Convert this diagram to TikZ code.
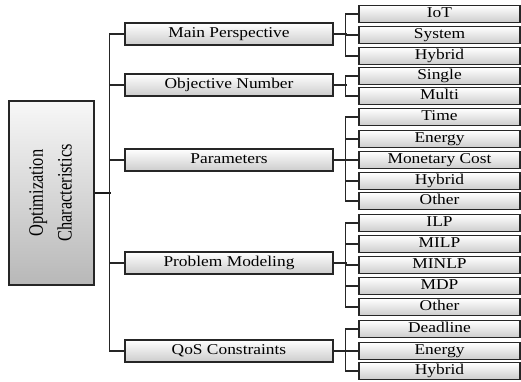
\documentclass[tikz,border=0pt]{standalone}
\usepackage{fontspec}
\setmainfont{Liberation Serif}[FakeStretch=1.16]
\newfontfamily\rootfont{Liberation Serif}
\begin{document}
\begin{tikzpicture}[x=1pt,y=-1pt,
  box/.style={draw=black!85, line width=1.1pt, top color=white, bottom color=black!20, inner sep=0pt},
  midbox/.style={box, minimum width=208pt, minimum height=22pt, font=\fontsize{15}{15}\selectfont, text height=10pt, text depth=3.5pt},
  leafbox/.style={box, minimum width=161pt, minimum height=17pt, font=\fontsize{15}{15}\selectfont, text height=10pt, text depth=3.5pt},
  rootbox/.style={draw=black!85, line width=1.1pt, top color=black!3, bottom color=black!28, minimum width=85pt, minimum height=184pt},
  conn/.style={line width=1.1pt, draw=black!85},
  rootconn/.style={line width=1.6pt, draw=black!90}]
\useasboundingbox (0,0) rectangle (521,381);

% root
\node[rootbox] (root) at (51.5,193) {};
\node[rotate=90, inner sep=0pt] (rootlabel) at (root.center) {\rootfont\fontsize{16.4}{23}\selectfont\scalebox{1}[1.25]{\begin{tabular}{@{}c@{}}Optimization\\ Characteristics\end{tabular}}};

% middle level
\node[midbox] (mp)  at (229,34)  {Main Perspective};
\node[midbox] (on)  at (229,85)  {Objective Number};
\node[midbox] (par) at (229,160) {Parameters};
\node[midbox] (pm)  at (229,263) {Problem Modeling};
\node[midbox] (qos) at (229,351) {QoS Constraints};

% leaves
\node[leafbox] (l1)  at (439.5,14)  {IoT};
\node[leafbox] (l2)  at (439.5,35)  {System};
\node[leafbox] (l3)  at (439.5,56)  {Hybrid};
\node[leafbox] (l4)  at (439.5,76)  {Single};
\node[leafbox] (l5)  at (439.5,96)  {Multi};
\node[leafbox] (l6)  at (439.5,117) {Time};
\node[leafbox] (l7)  at (439.5,139) {Energy};
\node[leafbox] (l8)  at (439.5,160) {Monetary Cost};
\node[leafbox] (l9)  at (439.5,181) {Hybrid};
\node[leafbox] (l10) at (439.5,201) {Other};
\node[leafbox] (l11) at (439.5,223) {ILP};
\node[leafbox] (l12) at (439.5,244) {MILP};
\node[leafbox] (l13) at (439.5,265) {MINLP};
\node[leafbox] (l14) at (439.5,286) {MDP};
\node[leafbox] (l15) at (439.5,307) {Other};
\node[leafbox] (l16) at (439.5,329) {Deadline};
\node[leafbox] (l17) at (439.5,351) {Energy};
\node[leafbox] (l18) at (439.5,371) {Hybrid};

% trunk
\draw[rootconn] (root.east) -- ++(16,0);
\draw[conn] (mp.west) -- ++(-15,0) |- (qos.west);
\draw[conn] (on.west) -- ++(-15,0);
\draw[conn] (par.west) -- ++(-15,0);
\draw[conn] (pm.west) -- ++(-15,0);

% branches
\draw[conn] (mp.east) -- ++(13,0);
\draw[conn] (l1.west) -- ++(-13,0) |- (l3.west);
\draw[conn] (l2.west) -- ++(-13,0);

\draw[conn] (on.east) -- ++(13,0);
\draw[conn] (l4.west) -- ++(-13,0) |- (l5.west);

\draw[conn] (par.east) -- ++(13,0);
\draw[conn] (l6.west) -- ++(-13,0) |- (l10.west);
\draw[conn] (l7.west) -- ++(-13,0);
\draw[conn] (l8.west) -- ++(-13,0);
\draw[conn] (l9.west) -- ++(-13,0);

\draw[conn] (pm.east) -- ++(13,0);
\draw[conn] (l11.west) -- ++(-13,0) |- (l15.west);
\draw[conn] (l12.west) -- ++(-13,0);
\draw[conn] (l13.west) -- ++(-13,0);
\draw[conn] (l14.west) -- ++(-13,0);

\draw[conn] (qos.east) -- ++(13,0);
\draw[conn] (l16.west) -- ++(-13,0) |- (l18.west);
\draw[conn] (l17.west) -- ++(-13,0);
\end{tikzpicture}
\end{document}
